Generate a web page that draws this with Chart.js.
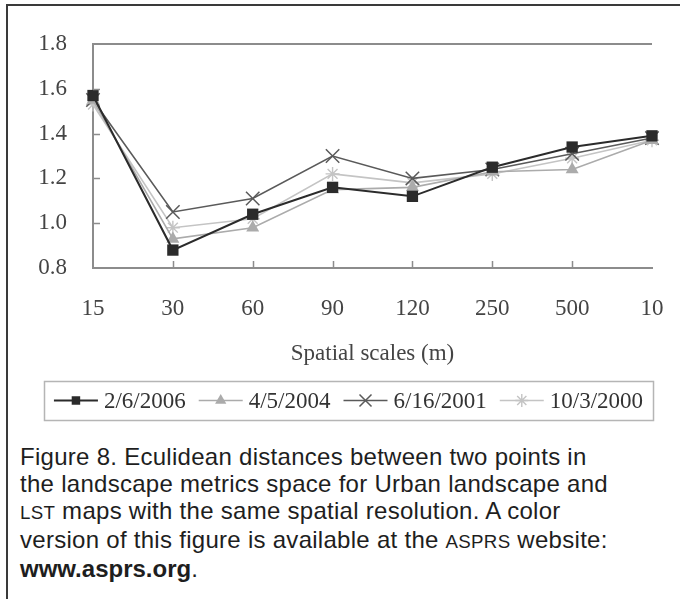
<!DOCTYPE html>
<html>
<head>
<meta charset="utf-8">
<script src="https://cdn.jsdelivr.net/npm/chart.js@4/dist/chart.umd.min.js"></script>
<style>
  html, body { margin: 0; padding: 0; background: #fff; }
  body { width: 680px; height: 599px; position: relative; overflow: hidden; }
  .frame { position: absolute; left: 6px; top: 4px; right: 0; bottom: 0;
           border-top: 2px solid #3a3a3a; border-left: 2px solid #3a3a3a; }
  .plot { position: absolute; left: 0; top: 0; width: 680px; height: 430px; }
  .plot canvas { position: absolute; left: 0; top: 0; }
  .caption { position: absolute; left: 20px; top: 443px; width: 660px;
             font-family: "Liberation Sans", Arial, sans-serif; font-size: 24px;
             letter-spacing: 0.28px; line-height: 27px; color: #1e1e1e; white-space: nowrap; }
  .caption .sc { font-size: 0.78em; }
  .caption b { font-weight: bold; letter-spacing: 0; }
</style>
</head>
<body>
<div class="frame"></div>
<div class="plot"><canvas id="c" width="680" height="430"></canvas></div>
<div class="caption">
  Figure 8. Eculidean distances between two points in<br>
  the landscape metrics space for Urban landscape and<br>
  <span class="sc">LST</span> maps with the same spatial resolution. A color<br>
  version of this figure is available at the <span class="sc">ASPRS</span> website:<br>
  <b>www.asprs.org</b>.
</div>
<script>
// Spatial scales (m) on the x axis
const scaleLabels = ['15', '30', '60', '90', '120', '250', '500', '1000'];
// Text printed under each scale (the last one is cut short at the figure edge)
const tickText = ['15', '30', '60', '90', '120', '250', '500', '10'];

// Euclidean distance per image date
const seriesNames = ['2/6/2006', '4/5/2004', '6/16/2001', '10/3/2000'];
const dist2006 = [1.57, 0.88, 1.04, 1.16, 1.12, 1.25, 1.34, 1.39];
const dist2004 = [1.55, 0.93, 0.98, 1.15, 1.16, 1.23, 1.24, 1.37];
const dist2001 = [1.55, 1.05, 1.11, 1.30, 1.20, 1.24, 1.31, 1.38];
const dist2000 = [1.53, 0.98, 1.02, 1.22, 1.18, 1.22, 1.29, 1.37];

// y axis range and step
const yMin = 0.8, yMax = 1.8, yStep = 0.2;

const serif = '"Liberation Serif", "Times New Roman", serif';

const looks = [
  { line: '#2b2b2b', lw: 2,   fill: '#2b2b2b', stroke: '#2b2b2b', style: 'rect',     r: 8,   bw: 0,   lr: 6   },
  { line: '#ababab', lw: 1.6, fill: '#ababab', stroke: '#ababab', style: 'triangle', r: 7.5, bw: 0,   lr: 6.5 },
  { line: '#5a5a5a', lw: 1.6, fill: '#5a5a5a', stroke: '#5a5a5a', style: 'crossRot', r: 9.5, bw: 1.5, lr: 8.5 },
  { line: '#c4c4c4', lw: 1.6, fill: '#c4c4c4', stroke: '#c4c4c4', style: 'star',     r: 7,   bw: 1.4, lr: 6.5 }
];
const values = [dist2006, dist2004, dist2001, dist2000];

const datasets = seriesNames.map((name, i) => ({
  label: name,
  data: values[i],
  borderColor: looks[i].line,
  borderWidth: looks[i].lw,
  backgroundColor: looks[i].fill,
  pointStyle: looks[i].style,
  pointRadius: looks[i].r,
  pointBorderWidth: looks[i].bw,
  pointBorderColor: looks[i].stroke,
  pointBackgroundColor: looks[i].fill,
  tension: 0,
  fill: false
}));

// Small tick marks drawn on the inner side of both axes
const innerTicks = {
  id: 'innerTicks',
  afterDatasetsDraw(chart) {
    const { ctx, chartArea, scales } = chart;
    ctx.save();
    ctx.strokeStyle = '#8c8c8c';
    ctx.lineWidth = 1.5;
    ctx.beginPath();
    const ys = scales.y;
    ys.ticks.forEach(t => {
      if (t.value <= yMin + 1e-9 || t.value >= yMax - 1e-9) return;
      const py = Math.round(ys.getPixelForValue(t.value)) + 0.5;
      ctx.moveTo(chartArea.left, py);
      ctx.lineTo(chartArea.left + 7, py);
    });
    const xs = scales.x;
    for (let i = 1; i < scaleLabels.length - 1; i++) {
      const px = Math.round(xs.getPixelForTick(i)) + 0.5;
      ctx.moveTo(px, chartArea.bottom);
      ctx.lineTo(px, chartArea.bottom - 7);
    }
    ctx.stroke();
    ctx.restore();
  }
};

// Boxed legend below the axis title: line sample with marker, then date
const boxLegend = {
  id: 'boxLegend',
  afterDraw(chart) {
    const { ctx } = chart;
    const boxL = 44, boxR = 653, boxT = 381, boxB = 420;
    const cy = (boxT + boxB) / 2;
    const sample = 44, gapText = 6, gapItem = 13;
    ctx.save();
    ctx.strokeStyle = '#b5b5b5';
    ctx.lineWidth = 1.5;
    ctx.strokeRect(boxL + 0.5, boxT + 0.5, boxR - boxL, boxB - boxT);
    ctx.font = '23px ' + serif;
    ctx.textBaseline = 'middle';
    ctx.textAlign = 'left';
    const widths = chart.data.datasets.map(d => ctx.measureText(d.label).width);
    let total = 0;
    widths.forEach(w => { total += sample + gapText + w; });
    total += gapItem * (widths.length - 1);
    let x = (boxL + boxR) / 2 - total / 2;
    chart.data.datasets.forEach((d, i) => {
      const lk = looks[i];
      ctx.strokeStyle = lk.line;
      ctx.lineWidth = lk.lw;
      ctx.beginPath();
      ctx.moveTo(x, cy);
      ctx.lineTo(x + sample, cy);
      ctx.stroke();
      ctx.fillStyle = lk.fill;
      ctx.strokeStyle = lk.stroke;
      ctx.lineWidth = lk.bw;
      Chart.helpers.drawPoint(ctx, { pointStyle: lk.style, radius: lk.lr, borderWidth: lk.bw, rotation: 0 },
        x + sample / 2, cy);
      ctx.fillStyle = '#333';
      ctx.fillText(d.label, x + sample + gapText, cy + 1);
      x += sample + gapText + widths[i] + gapItem;
    });
    ctx.restore();
  }
};

new Chart(document.getElementById('c'), {
  type: 'line',
  data: { labels: scaleLabels, datasets },
  options: {
    responsive: false,
    animation: false,
    events: [],
    layout: { padding: { top: 44, left: 0, right: 28, bottom: 62 } },
    plugins: { legend: { display: false }, tooltip: { enabled: false } },
    scales: {
      x: {
        offset: false,
        grid: { display: true, drawOnChartArea: false, drawTicks: false },
        border: { display: true, color: '#8c8c8c', width: 2 },
        ticks: { color: '#444', font: { family: serif, size: 23 }, padding: 27, maxRotation: 0, autoSkip: false,
                 callback: (v, i) => tickText[i] },
        title: { display: true, text: 'Spatial scales (m)', color: '#444',
                 font: { family: serif, size: 23 }, padding: { top: 10, bottom: 0 } },
        afterFit(s) { s.height = 100; s.paddingLeft = 0; s.paddingRight = 0; }
      },
      y: {
        min: yMin, max: yMax,
        grid: {
          drawTicks: false,
          color: c => (c.tick && Math.abs(c.tick.value - yMax) < 1e-9) ? '#8c8c8c' : 'rgba(0,0,0,0)',
          lineWidth: 2
        },
        border: { display: true, color: '#8c8c8c', width: 2 },
        ticks: {
          stepSize: yStep, color: '#444', padding: 26,
          font: { family: serif, size: 23 },
          callback: v => Number(v).toFixed(1)
        },
        afterFit(s) { s.width = 93; }
      }
    }
  },
  plugins: [innerTicks, boxLegend]
});
</script>
</body>
</html>
